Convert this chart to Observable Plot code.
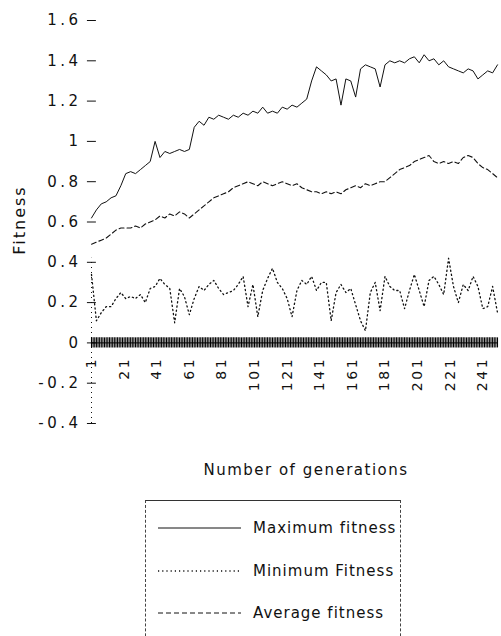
<!DOCTYPE html>
<html><head><meta charset="utf-8">
<script src="https://cdn.jsdelivr.net/npm/d3@7"></script>
<script src="https://cdn.jsdelivr.net/npm/@observablehq/plot@0.6"></script>
<style>
body{margin:0;background:#fff;font-family:"DejaVu Sans",sans-serif;color:#111;}
#wrap{position:relative;width:501px;height:636px;overflow:hidden;}
#chart{position:absolute;left:0;top:0;}
.ttl{position:absolute;white-space:nowrap;font-size:15px;}
#ytitle{left:19px;top:220px;transform:translate(-50%,-50%) rotate(-90deg);letter-spacing:2px;font-size:16px;}
#xtitle{left:306px;top:470px;transform:translate(-50%,-50%);letter-spacing:1.5px;}
#legend{position:absolute;left:145px;top:500px;width:254px;height:160px;border-top:1px solid #333;border-left:1px dashed #444;border-right:1px dashed #444;}
.row{position:absolute;left:0;width:254px;height:20px;}
.row svg{position:absolute;left:12px;top:0;}
.row span{position:absolute;left:107px;top:0;line-height:20px;font-size:15px;letter-spacing:1px;}
</style></head><body>
<div id="wrap">
<div id="chart"></div>
<div id="ytitle" class="ttl">Fitness</div>
<div id="xtitle" class="ttl">Number of generations</div>
<div id="legend"></div>
</div>
<script>
// Generations sampled every 3 (1, 4, ..., 250)
const generations = d3.range(1, 251, 3);
const allGenerations = d3.range(1, 251);

const maxFitness = [
 0.62,0.66,0.69,0.70,0.72,0.73,0.78,0.84,0.85,0.84,
 0.86,0.88,0.90,1.00,0.92,0.95,0.94,0.95,0.96,0.95,
 0.96,1.07,1.10,1.08,1.12,1.11,1.13,1.12,1.11,1.13,
 1.12,1.14,1.13,1.15,1.14,1.17,1.14,1.15,1.14,1.17,
 1.16,1.18,1.17,1.19,1.21,1.30,1.37,1.35,1.33,1.30,
 1.31,1.18,1.31,1.30,1.22,1.36,1.38,1.37,1.36,1.27,
 1.38,1.40,1.39,1.40,1.39,1.41,1.42,1.39,1.43,1.40,
 1.41,1.38,1.40,1.37,1.36,1.35,1.34,1.36,1.35,1.31,
 1.33,1.35,1.34,1.38];

const avgFitness = [
 0.49,0.50,0.51,0.52,0.54,0.56,0.57,0.57,0.57,0.58,
 0.57,0.59,0.60,0.61,0.63,0.62,0.64,0.63,0.65,0.64,
 0.62,0.64,0.66,0.68,0.70,0.72,0.73,0.74,0.75,0.77,
 0.78,0.79,0.80,0.79,0.78,0.80,0.79,0.78,0.79,0.80,
 0.79,0.78,0.79,0.77,0.76,0.75,0.75,0.74,0.75,0.74,
 0.75,0.74,0.76,0.77,0.78,0.77,0.79,0.78,0.79,0.80,
 0.80,0.82,0.84,0.86,0.87,0.88,0.90,0.91,0.92,0.93,
 0.90,0.89,0.90,0.89,0.90,0.89,0.92,0.93,0.92,0.89,
 0.87,0.86,0.84,0.82];

const minFitness = [
 0.34,0.11,0.15,0.18,0.18,0.22,0.25,0.22,0.23,0.22,
 0.24,0.20,0.27,0.28,0.32,0.29,0.27,0.10,0.27,0.23,
 0.14,0.22,0.28,0.26,0.29,0.31,0.27,0.24,0.25,0.26,
 0.29,0.33,0.18,0.29,0.13,0.26,0.32,0.37,0.30,0.27,
 0.22,0.13,0.26,0.31,0.29,0.33,0.26,0.30,0.30,0.11,
 0.25,0.29,0.25,0.27,0.19,0.11,0.06,0.25,0.30,0.16,
 0.33,0.28,0.26,0.26,0.17,0.26,0.34,0.26,0.18,0.31,
 0.33,0.29,0.24,0.42,0.28,0.20,0.29,0.26,0.33,0.28,
 0.17,0.18,0.28,0.15];

const seriesNames = ["Maximum fitness", "Minimum Fitness", "Average fitness"];
const seriesDash = ["none", "1.2,3", "5,3"];
const yTicks = [-0.4, -0.2, 0, 0.2, 0.4, 0.6, 0.8, 1, 1.2, 1.4, 1.6];
const xTickLabels = [1, 21, 41, 61, 81, 101, 121, 141, 161, 181, 201, 221, 241];

const rows = (vals) => generations.map((g, i) => ({g, v: vals[i]}));

const plot = Plot.plot({
  width: 501, height: 440,
  marginLeft: 91, marginRight: 4, marginTop: 20, marginBottom: 17,
  style: {fontFamily: "DejaVu Sans, sans-serif", background: "#fff", color: "#111"},
  x: {domain: [1, 250], axis: null},
  y: {domain: [-0.4, 1.6], axis: null},
  marks: [
    Plot.ruleY(yTicks, {y: d => d, x1: -1.5, x2: 4, stroke: "#111"}),
    Plot.text(yTicks, {x: 1, y: d => d, text: d => String(d), textAnchor: "end", dx: -10, fontSize: 15, fill: "#111"}),
    Plot.ruleX([1], {y1: -0.4, y2: 0.42, stroke: "#111", strokeDasharray: "1,4"}),
    Plot.ruleX(allGenerations, {x: d => d, y1: -0.025, y2: 0.025, stroke: "#000", strokeWidth: 1.1}),
    Plot.ruleY([0], {stroke: "#000"}),
    Plot.text(xTickLabels, {x: d => d, y: 0, text: d => String(d), rotate: -90, textAnchor: "end", dy: 14, fontSize: 14, fill: "#111"}),
    Plot.line(rows(maxFitness), {x: "g", y: "v", stroke: "#111", strokeWidth: 1}),
    Plot.line(rows(avgFitness), {x: "g", y: "v", stroke: "#111", strokeWidth: 1.1, strokeDasharray: seriesDash[2]}),
    Plot.line(rows(minFitness), {x: "g", y: "v", stroke: "#111", strokeWidth: 1.3, strokeDasharray: seriesDash[1]})
  ]
});
document.getElementById("chart").appendChild(plot);

// letter spacing like the original typesetting
const yLabelSet = new Set(yTicks.map(String));
const xLabelSet = new Set(xTickLabels.map(String));
d3.select(plot).selectAll("text").each(function() {
  const t = this.textContent;
  const rotated = (this.getAttribute("transform") || "").includes("rotate");
  if (rotated && xLabelSet.has(t)) this.setAttribute("letter-spacing", "2.5");
  else if (!rotated && yLabelSet.has(t)) this.setAttribute("letter-spacing", "3.5");
});

// Legend
const legend = d3.select("#legend");
const rowTops = [17, 60, 102];
seriesNames.forEach((name, i) => {
  const r = legend.append("div").attr("class", "row").style("top", rowTops[i] + "px");
  const s = r.append("svg").attr("width", 84).attr("height", 20);
  s.append("line").attr("x1", 0).attr("x2", 83).attr("y1", 10).attr("y2", 10)
    .attr("stroke", "#111").attr("stroke-width", i === 1 ? 1.3 : 1)
    .attr("stroke-dasharray", seriesDash[i]);
  r.append("span").text(name);
});
</script>
</body></html>
